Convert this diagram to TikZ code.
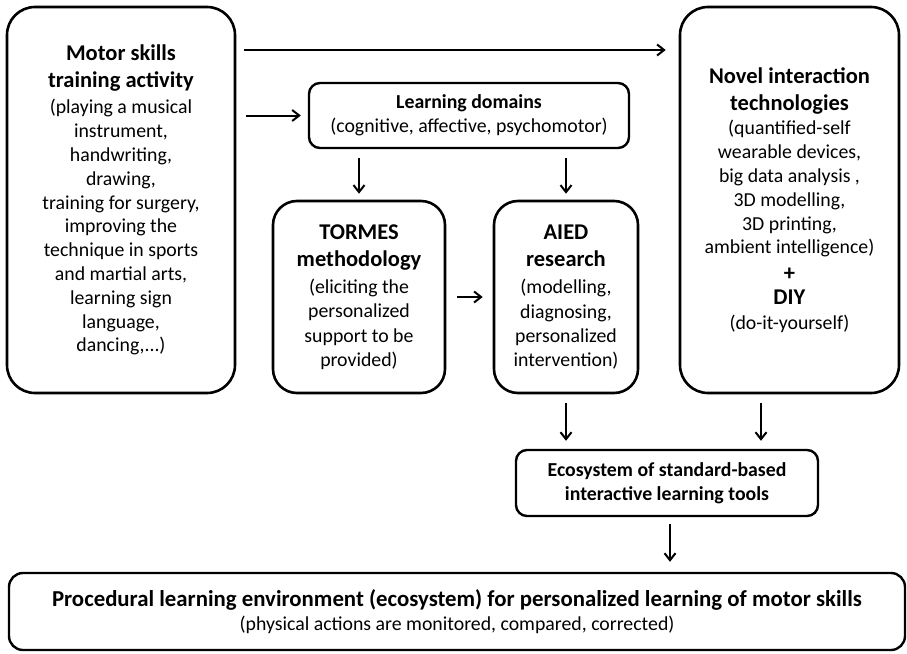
\documentclass[tikz,border=0pt]{standalone}
\usepackage{fontspec}
\setmainfont{Carlito}
\usetikzlibrary{arrows.meta,positioning}
\newcommand{\headline}[1]{\textbf{\fontsize{22.5}{26}\selectfont #1}}
\tikzset{
  bigbox/.style={draw, line width=2.6pt, rounded corners=28pt, align=center, font=\fontsize{19.8}{23.8}\selectfont, inner sep=0pt},
  midbox/.style={draw, line width=2.6pt, rounded corners=24pt, align=center, font=\fontsize{19.8}{24.2}\selectfont, inner sep=0pt},
  smallbox/.style={draw, line width=2.4pt, rounded corners=11pt, align=center, font=\fontsize{19.8}{24}\selectfont, inner sep=0pt},
  flow/.style={-{Straight Barb[length=7pt, width=11pt, line width=2pt]}, line width=2pt}
}

\begin{document}
\begin{tikzpicture}[x=1pt,y=-1pt]
  \useasboundingbox (0,0) rectangle (907,653);

  \node[bigbox, minimum width=228pt, minimum height=386pt, text depth=3pt] (motor) at (121,200)
    {\headline{Motor skills}\\[2.5pt]\headline{training activity}\\[3pt](playing a musical\\instrument,\\handwriting,\\drawing,\\training for surgery,\\improving the\\technique in sports\\and martial arts,\\learning sign\\language,\\dancing,...)};
  \node[smallbox, minimum width=320pt, minimum height=65pt] (domains) at (469,115.5)
    {\textbf{Learning domains}\\(cognitive, affective, psychomotor)};
  \node[midbox, minimum width=172pt, minimum height=192pt] (tormes) at (359,297)
    {\headline{TORMES}\\[3pt]\headline{methodology}\\[3pt](eliciting the\\personalized\\support to be\\provided)};
  \node[midbox, minimum width=144pt, minimum height=192pt] (aied) at (566,297)
    {\headline{AIED}\\[3pt]\headline{research}\\[3pt](modelling,\\diagnosing,\\personalized\\intervention)};
  \node[bigbox, minimum width=219pt, minimum height=386pt] (novel) at (789.5,200)
    {\headline{Novel interaction}\\[3pt]\headline{technologies}\\[1pt](quantified-self\\wearable devices,\\big data analysis ,\\3D modelling,\\3D printing,\\ambient intelligence)\\[3pt]\headline{+}\\\headline{DIY}\\[1pt](do-it-yourself)};
  \node[smallbox, minimum width=302pt, minimum height=66pt] (ecosys) at (667,483)
    {\textbf{Ecosystem of standard-based}\\\textbf{interactive learning tools}};
  \node[smallbox, rounded corners=14pt, minimum width=896pt, minimum height=77pt] (proc) at (457,611.5)
    {\textbf{\fontsize{22.8}{26}\selectfont Procedural learning environment (ecosystem) for personalized learning of motor skills}\\(physical actions are monitored, compared, corrected)};

  \coordinate (toprow) at (0,50);
  \draw[flow, shorten <=8pt, shorten >=13pt] (motor.east |- toprow) -- (novel.west |- toprow);
  \draw[flow, shorten <=10pt, shorten >=7pt] (motor.east |- domains.west) -- (domains.west);
  \draw[flow, shorten <=9pt, shorten >=6pt] (domains.south -| tormes.north) -- (tormes.north);
  \draw[flow, shorten <=9pt, shorten >=6pt] (domains.south -| aied.north) -- (aied.north);
  \draw[flow, shorten <=11pt, shorten >=10pt] (tormes.east) -- (aied.west);
  \draw[flow, shorten <=9pt, shorten >=8pt] (aied.south) -- (aied.south |- ecosys.north);
  \draw[flow, shorten <=9pt, shorten >=8pt] ([xshift=-28.5pt]novel.south) -- ([xshift=-28.5pt]novel.south |- ecosys.north);
  \draw[flow, shorten <=7pt, shorten >=10pt] ([xshift=3pt]ecosys.south) -- ([xshift=3pt]ecosys.south |- proc.north);
\end{tikzpicture}
\end{document}
